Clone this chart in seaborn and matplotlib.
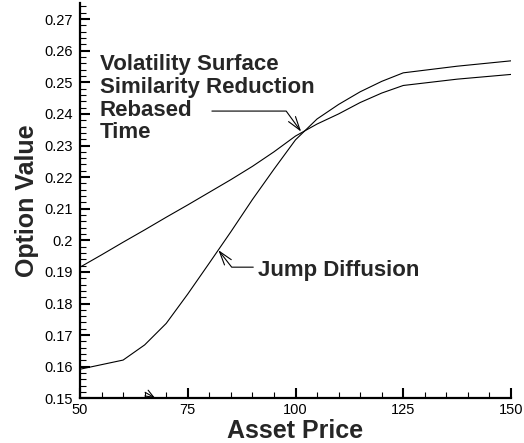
import numpy as np
import pandas as pd
import matplotlib
matplotlib.use("Agg")
import matplotlib.pyplot as plt
from matplotlib.ticker import MultipleLocator, FuncFormatter
import seaborn as sns

# Option value vs asset price for two pricing approaches
surface_price = [50, 55, 60, 65, 70, 75, 80, 85, 90, 95, 100, 105, 110, 115, 120, 125, 137.5, 150]
surface_value = [0.1915, 0.1954, 0.1994, 0.2033, 0.2073, 0.2112, 0.2152, 0.2192, 0.2234, 0.2280,
                 0.2330, 0.2368, 0.2400, 0.2436, 0.2466, 0.2490, 0.2510, 0.2525]

jump_price = [50, 60, 65, 70, 75, 80, 85, 90, 95, 100, 105, 110, 115, 120, 125, 137.5, 150]
jump_value = [0.1592, 0.1621, 0.1669, 0.1737, 0.1830, 0.1928, 0.2027, 0.2129, 0.2225, 0.2318,
              0.2384, 0.2430, 0.2470, 0.2503, 0.2530, 0.2551, 0.2568]

series_names = ["Volatility Surface", "Jump Diffusion"]
x_ticks = [50, 75, 100, 125, 150]

df = pd.concat([
    pd.DataFrame({"Asset Price": surface_price, "Option Value": surface_value, "model": series_names[0]}),
    pd.DataFrame({"Asset Price": jump_price, "Option Value": jump_value, "model": series_names[1]}),
], ignore_index=True)

sns.set_style("ticks")
plt.rcParams["font.family"] = ["Liberation Sans", "DejaVu Sans"]

fig = plt.figure(figsize=(5.24, 4.43), dpi=100)
ax = fig.add_axes([0.1527, 0.1009, 0.8225, 0.8916])

sns.lineplot(data=df, x="Asset Price", y="Option Value", hue="model",
             palette={n: "black" for n in series_names}, linewidth=0.8,
             legend=False, sort=False, estimator=None, ax=ax)

ax.set_xlim(50, 150)
ax.set_ylim(0.15, 0.275)
ax.set_xticks(x_ticks)
ax.xaxis.set_minor_locator(MultipleLocator(5))
ax.yaxis.set_major_locator(MultipleLocator(0.01))
ax.yaxis.set_minor_locator(MultipleLocator(0.002))
ax.yaxis.set_major_formatter(FuncFormatter(lambda v, p: f"{v:g}" if v <= 0.2705 else ""))
ax.xaxis.set_major_formatter(FuncFormatter(lambda v, p: f"{v:g}"))

ax.tick_params(which="both", direction="in", colors="black", labelsize=10.5)
ax.tick_params(which="major", length=7.2, width=1.5)
ax.tick_params(which="minor", length=4.5, width=0.8)
ax.tick_params(axis="y", pad=5)
ax.tick_params(axis="x", pad=3.5)

sns.despine(ax=ax)
for side in ("left", "bottom"):
    ax.spines[side].set_linewidth(1.6)
    ax.spines[side].set_color("black")

ax.set_xlabel("Asset Price", fontsize=18, fontweight="bold", labelpad=1)
ax.set_ylabel("Option Value", fontsize=18, fontweight="bold", labelpad=4)

arrow = dict(arrowstyle="->,head_length=0.7,head_width=0.22", color="black",
             lw=0.8, shrinkA=0, shrinkB=0, mutation_scale=14)

ax.text(54.6, 0.2448, "Volatility Surface\nSimilarity Reduction\nRebased\nTime",
        fontsize=16, fontweight="bold", va="center", ha="left", linespacing=1.1)
ax.annotate("", xy=(101.3, 0.2344), xytext=(80.6, 0.2409),
            arrowprops=dict(arrow, connectionstyle="angle,angleA=0,angleB=-54,rad=0"))

ax.text(91.3, 0.1906, "Jump Diffusion", fontsize=16, fontweight="bold", va="center", ha="left")
ax.annotate("", xy=(82.1, 0.1969), xytext=(90.2, 0.1915),
            arrowprops=dict(arrow, connectionstyle="angle,angleA=180,angleB=-52,rad=0"))

# small leftover arrowhead resting on the price axis
ax.annotate("", xy=(67.4, 0.1501), xytext=(65.1, 0.1519),
            arrowprops=dict(arrowstyle="->,head_length=0.5,head_width=0.2", color="black",
                            lw=0.8, shrinkA=0, shrinkB=0, mutation_scale=12))

fig.savefig("out.png", dpi=100)
